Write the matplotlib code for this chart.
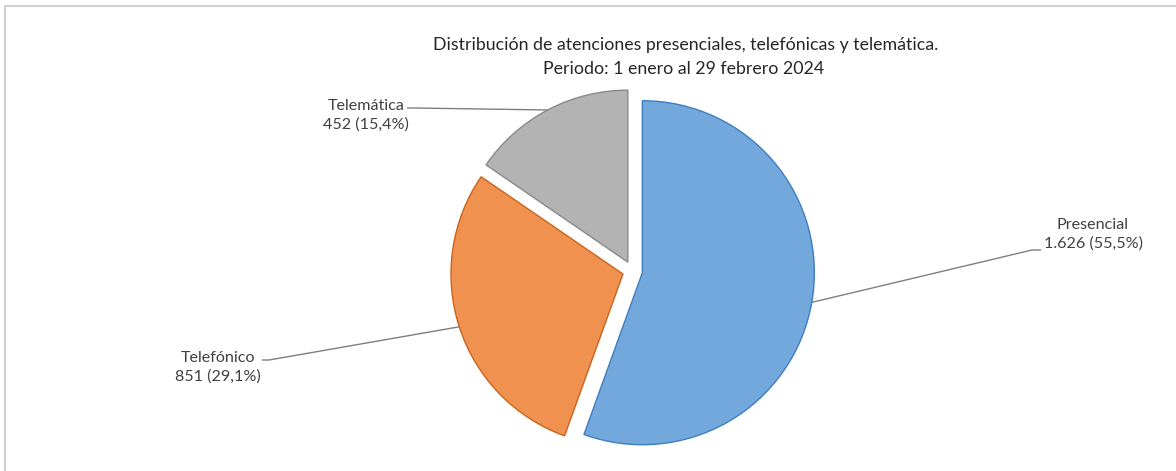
import numpy as np
import matplotlib
matplotlib.use("Agg")
import matplotlib.pyplot as plt
from matplotlib.patches import Rectangle

# ---- data ----
categories = ["Presencial", "Telefónico", "Telemática"]
values = [1626, 851, 452]
value_labels = ["1.626", "851", "452"]
title_lines = ["Distribución de atenciones presenciales, telefónicas y telemática.",
               "Periodo: 1 enero al 29 febrero 2024"]

# ---- style ----
fill_colors = ["#72A8DC", "#F0914F", "#B3B3B3"]
edge_colors = ["#3F7EC0", "#C9651F", "#8A8A8A"]
text_color = "#404040"
plt.rcParams['font.family'] = ['Lato', 'DejaVu Sans']

W, H = 1176, 471
fig = plt.figure(figsize=(W / 100, H / 100), dpi=100)
ax = fig.add_axes([0, 0, 1, 1])


def Y(py):
    return H - py


center = (632.5, Y(271))
radius = 172
explode_px = 10

wedges, _ = ax.pie(values, colors=fill_colors, startangle=90, counterclock=False,
                   center=center, radius=radius, explode=[explode_px] * 3,
                   wedgeprops=dict(linewidth=1.0))
for w, ec in zip(wedges, edge_colors):
    w.set_edgecolor(ec)

ax.set_xlim(0, W)
ax.set_ylim(0, H)
ax.set_aspect('equal')
ax.axis('off')

total = sum(values)
pcts = [v / total * 100 for v in values]

# label layout (pixel coords): text center, line end, horizontal stub end
label_pos = [(1093, 234), (218, 367), (366, 115)]
line_end = [(1041, 250), (262, 360), (407, 108)]
stub_from = [(1032, 250), (269, 360), (414, 108)]

for i, w in enumerate(wedges):
    tm = np.deg2rad((w.theta1 + w.theta2) / 2)
    cx, cy = w.center
    px = cx + radius * np.cos(tm)
    py = cy + radius * np.sin(tm)
    sx, sy = stub_from[i]
    ex, ey = line_end[i]
    ax.plot([px, sx, ex], [py, Y(sy), Y(ey)], color="#7F7F7F", lw=1.0,
            solid_capstyle='butt')
    pct = f"{pcts[i]:.1f}".replace(".", ",")
    ax.text(label_pos[i][0], Y(label_pos[i][1]),
            f"{categories[i]}\n{value_labels[i]} ({pct}%)",
            ha="center", va="center", color=text_color, fontsize=11.6,
            linespacing=1.38)

ax.text(686, Y(45), title_lines[0], ha="center", va="center",
        color="#262626", fontsize=12.8)
ax.text(684, Y(69), title_lines[1], ha="center", va="center",
        color="#262626", fontsize=12.8)

# chart border (partially cropped)
ax.add_patch(Rectangle((4.5, -10), W + 20, Y(5.5) + 10, fill=False,
                       edgecolor="#D0D0D0", lw=1.5, clip_on=False))

fig.savefig("out.png", dpi=100)
